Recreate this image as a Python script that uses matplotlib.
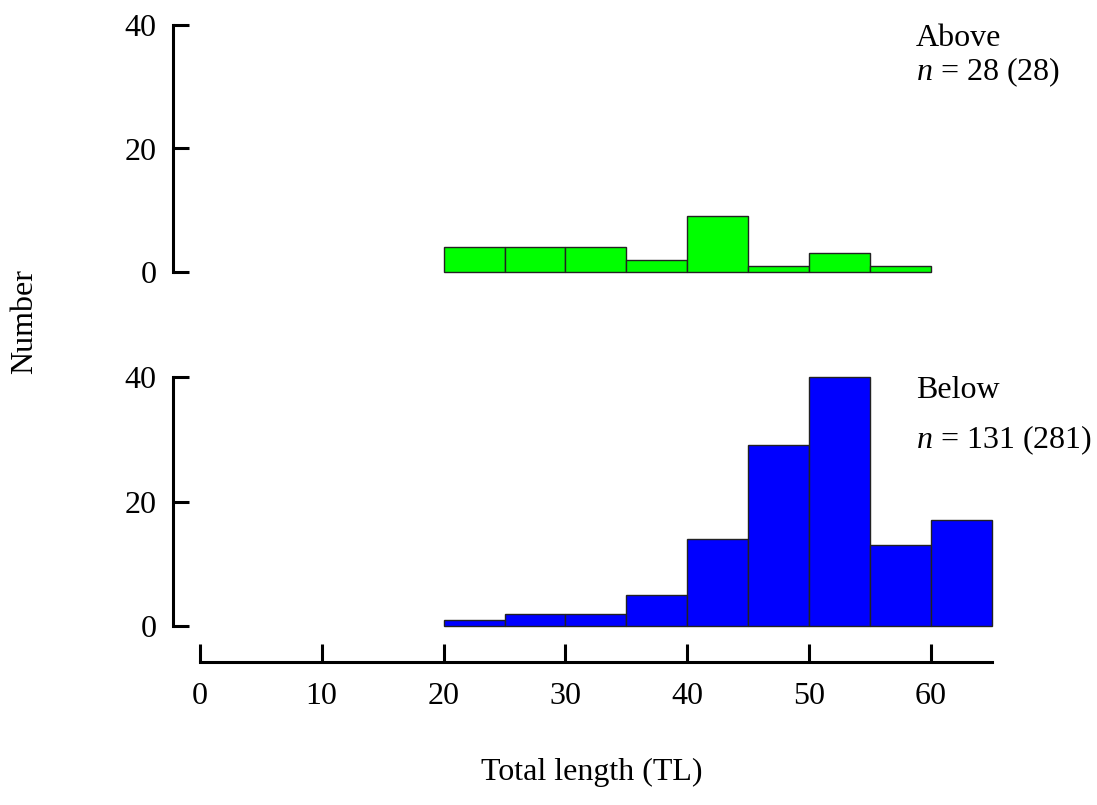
import matplotlib
matplotlib.use("Agg")
import matplotlib.pyplot as plt

plt.rcParams['font.family'] = ['Liberation Serif', 'DejaVu Serif']
plt.rcParams['mathtext.fontset'] = 'custom'
plt.rcParams['mathtext.rm'] = 'Liberation Serif'
plt.rcParams['mathtext.it'] = 'Liberation Serif:italic'

# 数据
bin_left = [20, 25, 30, 35, 40, 45, 50, 55, 60]
bin_width = 5
above_counts = [4, 4, 4, 2, 9, 1, 3, 1]
below_counts = [1, 2, 2, 5, 14, 29, 40, 13, 17]
y_ticks = [0, 20, 40]
x_ticks = [0, 10, 20, 30, 40, 50, 60]
above_label = "Above"
above_n = "$n$ = 28 (28)"
below_label = "Below"
below_n = "$n$ = 131 (281)"

FS = 23

fig = plt.figure(figsize=(10.97, 8.05), dpi=100)
W, H = 1097, 805


def px_axes(left, top, right, bottom):
    return fig.add_axes([left / W, 1 - bottom / H, (right - left) / W, (bottom - top) / H])


ax_top = px_axes(173, 25, 992, 272)
ax_bot = px_axes(173, 377, 992, 626)

for ax, counts, color in [(ax_top, above_counts, '#00ff00'), (ax_bot, below_counts, '#0000ff')]:
    ax.bar(bin_left[:len(counts)], counts, width=bin_width, align='edge',
           color=color, edgecolor='#222222', linewidth=1.0, clip_on=False)
    ax.set_xlim(-2.2, 65)
    ax.set_ylim(0, 40)
    for s in ['top', 'right']:
        ax.spines[s].set_visible(False)
    ax.spines['left'].set_bounds(0, 40)
    ax.spines['left'].set_linewidth(2.2)
    ax.set_yticks(y_ticks)
    ax.tick_params(axis='y', direction='in', length=11.5, width=2.2,
                   labelsize=FS, pad=12)
    ax.patch.set_visible(False)

ax_top.spines['bottom'].set_visible(False)
ax_top.set_xticks([])

ax_bot.spines['bottom'].set_position(('outward', 26))
ax_bot.spines['bottom'].set_bounds(0, 65)
ax_bot.spines['bottom'].set_linewidth(2.2)
ax_bot.set_xticks(x_ticks)
ax_bot.tick_params(axis='x', direction='in', length=13, width=2.2,
                   labelsize=FS, pad=14)

# 注释文字
fig.text(916 / W, 1 - 38 / H, above_label, fontsize=FS, va='center', ha='left')
fig.text(916 / W, 1 - 72 / H, above_n, fontsize=FS, va='center', ha='left')
fig.text(916 / W, 1 - 390 / H, below_label, fontsize=FS, va='center', ha='left')
fig.text(916 / W, 1 - 440 / H, below_n, fontsize=FS, va='center', ha='left')

fig.text(25 / W, 1 - 322 / H, "Number", fontsize=FS, rotation=90, va='center', ha='center')
fig.text(592 / W, 1 - 772 / H, "Total length (TL)", fontsize=FS, va='center', ha='center')

fig.savefig("out.png", dpi=100)
